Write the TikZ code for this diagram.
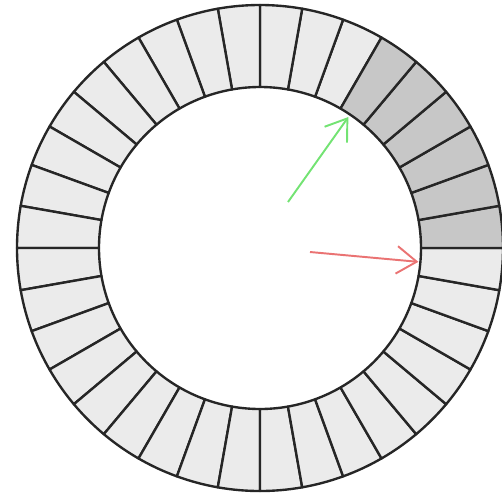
\documentclass[tikz,border=0pt]{standalone}
\usepackage{xcolor}
\usetikzlibrary{arrows.meta}
\tikzset{>={Straight Barb[length=0.4cm,width=0.55cm]}}
\colorlet{segcol}{black!8}
\colorlet{segdark}{black!22}
\colorlet{rimcol}{black!85}
\colorlet{greenray}{green!80!black!55}
\colorlet{redray}{red!85!black!55}
\tikzstyle{segment}=[fill=segcol,draw=rimcol,line width=1.35pt,line join=round]
\tikzstyle{segment dark}=[segment,fill=segdark]
\tikzstyle{ray}=[->,line width=1.1pt]

\begin{document}
\begin{tikzpicture}[x=0.02cm,y=0.02cm]
  \def\NS{36}
  \def\ND{6}
  \def\Ri{161}
  \def\Ro{243}
  \useasboundingbox (-260,-247) rectangle (242,248);

  % RING
  \foreach \i [evaluate={\a=\i*360/\NS; \b=(\i+1)*360/\NS;}] in {\ND,...,35}{
    \draw[segment] (\a:\Ri) -- (\a:\Ro) arc[start angle=\a,end angle=\b,radius=\Ro]
      -- (\b:\Ri) arc[start angle=\b,end angle=\a,radius=\Ri] -- cycle;
  }
  % SHADED PART
  \foreach \i [evaluate={\a=\i*360/\NS; \b=(\i+1)*360/\NS;}] in {0,...,5}{
    \draw[segment dark] (\a:\Ri) -- (\a:\Ro) arc[start angle=\a,end angle=\b,radius=\Ro]
      -- (\b:\Ri) arc[start angle=\b,end angle=\a,radius=\Ri] -- cycle;
  }

  % RAYS
  \coordinate (g0) at (28,46);
  \coordinate (g1) at (56:158);
  \coordinate (r0) at (50,-4);
  \coordinate (r1) at (-5:159);
  \draw[ray,greenray] (g0) -- (g1);
  \draw[ray,redray] (r0) -- (r1);
\end{tikzpicture}
\end{document}
